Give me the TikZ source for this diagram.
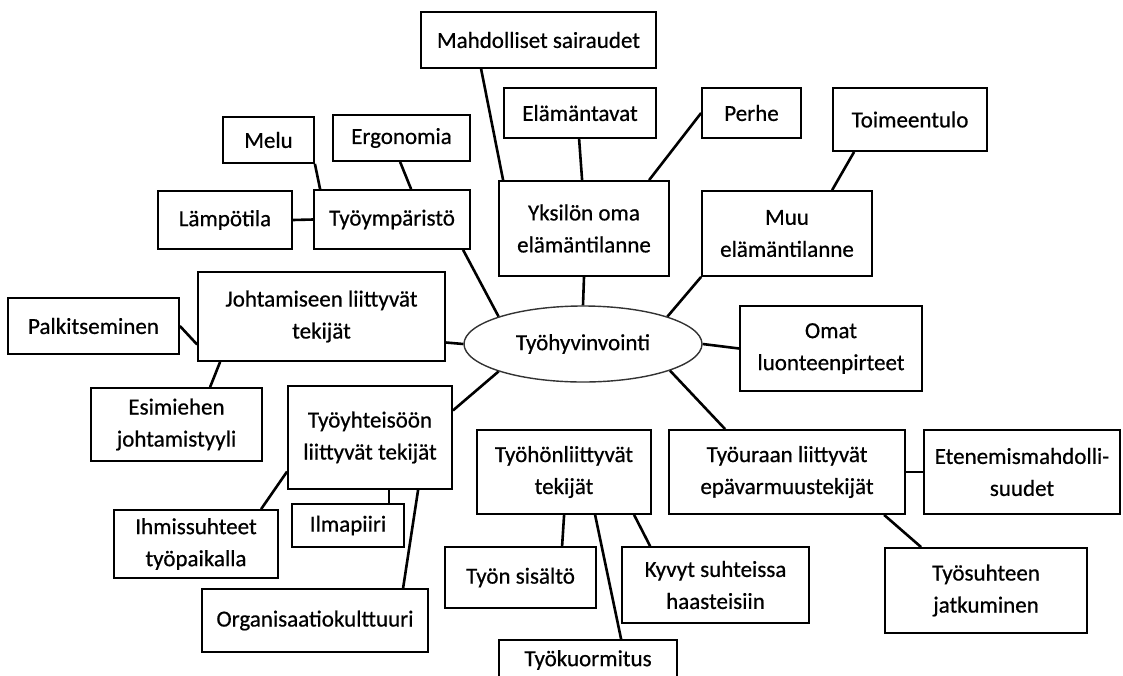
\documentclass[tikz,border=0pt]{standalone}
\usepackage{fontspec}
\setmainfont{Carlito}[FakeBold=0.6]
\usetikzlibrary{shapes.geometric}
\newcommand\diagfont{\fontsize{23}{32}\selectfont}
\tikzset{
  box/.style={draw, line width=1.8pt, inner sep=0pt, align=center, font=\diagfont, fill=white},
  link/.style={line width=2.6pt},
}
\begin{document}
\begin{tikzpicture}[x=1pt, y=-1pt]
\useasboundingbox (0,0) rectangle (1123,675);
\fill[white] (0,0) rectangle (1123,675);

% centre
\node[ellipse, draw=black!80, line width=1.4pt, minimum width=238pt, minimum height=76pt, inner sep=0pt, font=\diagfont] (tyo) at (583,344) {Työhyvinvointi};

% individual situation
\node[box, minimum width=235pt, minimum height=56pt] (mahd) at (538.5,40) {Mahdolliset sairaudet};
\node[box, minimum width=152pt, minimum height=50pt] (elam) at (580,113) {Elämäntavat};
\node[box, minimum width=99pt, minimum height=50pt] (perhe) at (751.5,113) {Perhe};
\node[box, minimum width=154pt, minimum height=63pt] (toim) at (910,119.5) {Toimeentulo};
\node[box, minimum width=170pt, minimum height=95pt] (yks) at (584,228.5) {Yksilön oma\\elämäntilanne};
\node[box, minimum width=170pt, minimum height=85pt] (muu) at (787,233.5) {Muu\\elämäntilanne};
\node[box, minimum width=182pt, minimum height=85pt] (omat) at (831,348.5) {Omat\\luonteenpirteet};

% work environment
\node[box, minimum width=91pt, minimum height=46pt] (melu) at (268.5,140) {Melu};
\node[box, minimum width=137pt, minimum height=46pt] (ergo) at (401.5,138) {Ergonomia};
\node[box, minimum width=134pt, minimum height=58pt] (lamp) at (225,220) {Lämpötila};
\node[box, minimum width=156pt, minimum height=59pt] (tymp) at (392,219.5) {Työympäristö};

% leadership
\node[box, minimum width=247pt, minimum height=89pt] (joht) at (321.5,316.5) {Johtamiseen liittyvät\\tekijät};
\node[box, minimum width=171pt, minimum height=56pt] (palk) at (93.5,326) {Palkitseminen};
\node[box, minimum width=171pt, minimum height=73pt] (esim) at (176.5,424.5) {Esimiehen\\johtamistyyli};

% work community
\node[box, minimum width=164pt, minimum height=103pt] (yhteis) at (370,437.5) {Työyhteisöön\\liittyvät tekijät};
\node[box, minimum width=164pt, minimum height=68pt] (ihmis) at (196,544) {Ihmissuhteet\\työpaikalla};
\node[box, minimum width=112pt, minimum height=43pt] (ilma) at (348,525.5) {Ilmapiiri};
\node[box, minimum width=226pt, minimum height=63pt] (org) at (315,620.5) {Organisaatiokulttuuri};

% work itself
\node[box, minimum width=174pt, minimum height=84pt] (tyohon) at (564,472) {Työhönliittyvät\\tekijät};
\node[box, minimum width=151pt, minimum height=61pt] (tyon) at (520.5,577.5) {Työn sisältö};
\node[box, minimum width=178pt, minimum height=40pt] (kuorm) at (588,660) {Työkuormitus};
\node[box, minimum width=187pt, minimum height=76pt] (kyvyt) at (715.5,585) {Kyvyt suhteissa\\haasteisiin};

% career
\node[box, minimum width=236pt, minimum height=84pt] (tyour) at (787,472) {Työuraan liittyvät\\epävarmuustekijät};
\node[box, minimum width=196pt, minimum height=84pt] (eten) at (1022,472) {Etenemismahdolli-\\suudet};
\node[box, minimum width=202pt, minimum height=85pt] (tsuht) at (986,590.5) {Työsuhteen\\jatkuminen};

% connectors
\draw[link] ([xshift=61pt]mahd.south west) -- ([xshift=5pt]yks.north west);
\draw[link] ([xshift=76pt]elam.south west) -- ([xshift=84pt]yks.north west);
\draw[link] (perhe.west) -- ([xshift=151pt]yks.north west);
\draw[link] ([xshift=22pt]toim.south west) -- ([xshift=131pt]muu.north west);
\draw[link] (melu.south east) -- ([xshift=7pt]tymp.north west);
\draw[link] ([xshift=68pt]ergo.south west) -- ([xshift=98pt]tymp.north west);
\draw[link] (lamp.east) -- (tymp.west);
\draw[link] ([xshift=150pt]tymp.south west) -- (tyo.162);
\draw[link] (yks.south) -- (tyo.90);
\draw[link] (muu.south west) -- (tyo.18);
\draw[link] ([yshift=-26pt]joht.east) -- (tyo.180);
\draw[link] (palk.east) -- ([yshift=-28pt]joht.west);
\draw[link] ([xshift=23pt]joht.south west) -- ([xshift=120pt]esim.north west);
\draw[link] ([yshift=27pt]yhteis.east) -- (tyo.198);
\draw[link] ([yshift=-34pt]yhteis.west) -- ([xshift=148pt]ihmis.north west);
\draw[link] ([xshift=102pt]yhteis.south west) -- ([xshift=98pt]ilma.north west);
\draw[link] ([xshift=131pt]yhteis.south west) -- ([xshift=202pt]org.north west);
\draw[link] (tyo.0) -- (omat.west);
\draw[link] (tyo.343) -- ([xshift=57pt]tyour.north west);
\draw[link] (tyour.east) -- (eten.west);
\draw[link] ([xshift=216pt]tyour.south west) -- ([xshift=37pt]tsuht.north west);
\draw[link] ([xshift=88pt]tyohon.south west) -- ([xshift=118pt]tyon.north west);
\draw[link] ([xshift=119pt]tyohon.south west) -- ([xshift=123pt]kuorm.north west);
\draw[link] ([xshift=158pt]tyohon.south west) -- ([xshift=29pt]kyvyt.north west);
\end{tikzpicture}
\end{document}
